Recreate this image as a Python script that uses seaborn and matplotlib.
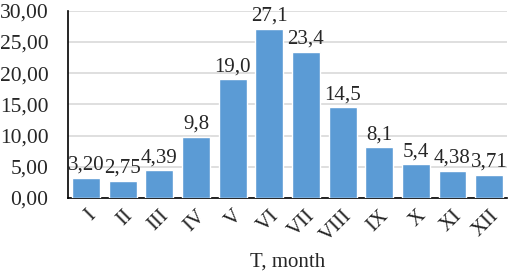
import matplotlib
matplotlib.use("Agg")
import matplotlib.pyplot as plt
import seaborn as sns
import pandas as pd

months = ["I", "II", "III", "IV", "V", "VI", "VII", "VIII", "IX", "X", "XI", "XII"]
values = [3.20, 2.75, 4.39, 9.8, 19.0, 27.1, 23.4, 14.5, 8.1, 5.4, 4.38, 3.71]
value_labels = ["3,20", "2,75", "4,39", "9,8", "19,0", "27,1", "23,4", "14,5", "8,1", "5,4", "4,38", "3,71"]
y_ticks = [0, 5, 10, 15, 20, 25, 30]

sns.set_style("white")
plt.rcParams["font.family"] = ["Liberation Serif", "DejaVu Serif"]

df = pd.DataFrame({"month": months, "value": values})

fig, ax = plt.subplots(figsize=(5.1, 2.71), dpi=100)
fig.subplots_adjust(left=0.133, right=0.995, top=0.96, bottom=0.27)

sns.barplot(data=df, x="month", y="value", color="#5B9BD5", saturation=1,
            width=0.76, ax=ax, zorder=3)

for i, (v, lab) in enumerate(zip(values, value_labels)):
    ax.text(i, v + 0.5, lab, ha="center", va="bottom", fontsize=15, zorder=4)

ax.set_ylim(0, 30)
ax.set_yticks(y_ticks)
ax.set_yticklabels([f"{t:.2f}".replace(".", ",") for t in y_ticks], fontsize=15.5)
ax.set_xticks(range(len(months)))
ax.set_xticklabels(months, rotation=45, ha="right", rotation_mode="anchor", fontsize=15)
ax.tick_params(axis="x", length=0, pad=6)
ax.tick_params(axis="y", length=0, pad=14)
ax.yaxis.grid(True, color="#d9d9d9", linewidth=1.2, zorder=0)
ax.set_axisbelow(True)

for s in ["top", "right"]:
    ax.spines[s].set_visible(False)
for s in ["left", "bottom"]:
    ax.spines[s].set_color("black")
    ax.spines[s].set_linewidth(1.2)

ax.set_xlabel("T, month", fontsize=15, labelpad=5)
ax.set_ylabel("")

fig.savefig("out.png", dpi=100)
